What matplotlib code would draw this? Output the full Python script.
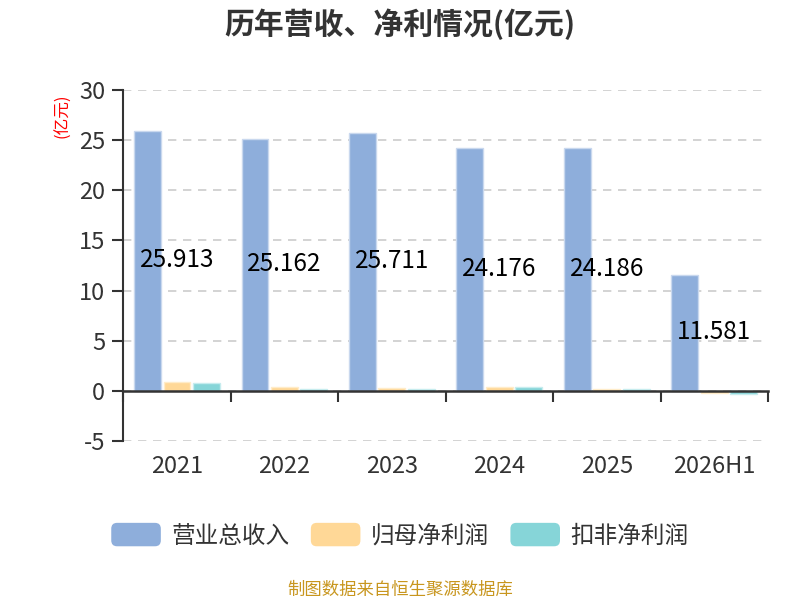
import matplotlib
matplotlib.use("Agg")
import matplotlib.pyplot as plt
import numpy as np
from matplotlib.patches import FancyBboxPatch, Patch
from matplotlib.legend_handler import HandlerPatch

plt.rcParams['font.family'] = ['Noto Sans CJK SC', 'DejaVu Sans']

categories = ['2021', '2022', '2023', '2024', '2025', '2026H1']
revenue = [25.913, 25.162, 25.711, 24.176, 24.186, 11.581]
net_profit = [0.93, 0.36, 0.33, 0.43, 0.20, -0.23]
deducted_profit = [0.74, 0.17, 0.15, 0.40, 0.15, -0.30]
revenue_labels = ['25.913', '25.162', '25.711', '24.176', '24.186', '11.581']
series_names = ['营业总收入', '归母净利润', '扣非净利润']
colors = ['#8eaedb', '#ffd897', '#86d5d8']
edge_colors = ['#c9d8ee', '#ffecc9', '#c6ecee']
yticks = [-5, 0, 5, 10, 15, 20, 25, 30]

fig = plt.figure(figsize=(8, 6), dpi=100)
ax = fig.add_axes([0.154, 0.265, 0.806, 0.585])

x = np.arange(len(categories))
w = 0.25
off = 0.274
series = [revenue, net_profit, deducted_profit]
for i, (vals, c, ec) in enumerate(zip(series, colors, edge_colors)):
    ax.bar(x + (i - 1) * off, vals, width=w, color=c, edgecolor=ec,
           linewidth=1, zorder=3, label=series_names[i])

for xi, v, lab in zip(x, revenue, revenue_labels):
    ax.text(xi, v / 2 + 0.1, lab, ha='center', va='center',
            fontsize=17.5, color='black', zorder=5)

ax.set_xlim(-0.5, len(categories) - 0.5)
ax.set_ylim(-5, 30)
ax.set_yticks(yticks)
ax.set_yticklabels([str(t) for t in yticks])
ax.tick_params(axis='y', direction='out', length=8, width=1.5, color='#333333',
               labelsize=17, labelcolor='#333333', pad=5)
ax.yaxis.grid(True, linestyle=(0, (5, 4)), color='#cccccc', linewidth=1.2, zorder=0)

for s in ['top', 'right']:
    ax.spines[s].set_visible(False)
ax.spines['left'].set_color('#333333')
ax.spines['left'].set_linewidth(1.5)
ax.spines['bottom'].set_position(('data', 0))
ax.spines['bottom'].set_color('#333333')
ax.spines['bottom'].set_linewidth(1.8)
ax.spines['bottom'].set_zorder(4)

ax.set_xticks(np.arange(len(categories) + 1) - 0.5)
ax.set_xticklabels([''] * (len(categories) + 1))
ax.set_xticks(x, minor=True)
ax.set_xticklabels(categories, minor=True)
ax.tick_params(axis='x', which='major', direction='out', length=8, width=1.5,
               color='#333333')
ax.tick_params(axis='x', which='minor', length=0, pad=46, labelsize=17,
               labelcolor='#333333')

ax.text(-0.093, 0.99, '(亿元)', transform=ax.transAxes, rotation=90,
        ha='center', va='top', color='red', fontsize=12)

fig.text(0.5, 0.96, '历年营收、净利情况(亿元)', ha='center', va='center',
         fontsize=21.5, fontweight='bold', color='#333333')
fig.text(0.5, 0.017, '制图数据来自恒生聚源数据库', ha='center', va='center',
         fontsize=12.5, color='#c8961e')


class RoundHandler(HandlerPatch):
    def create_artists(self, legend, orig_handle, xdescent, ydescent,
                       width, height, fontsize, trans):
        p = FancyBboxPatch((-xdescent, -ydescent), width, height,
                           boxstyle='round,pad=0,rounding_size=%f' % (height * 0.25),
                           facecolor=orig_handle.get_facecolor(),
                           edgecolor='none', transform=trans)
        return [p]


handles = [Patch(facecolor=c) for c in colors]
leg = fig.legend(handles, series_names, loc='center', bbox_to_anchor=(0.5, 0.108),
                 ncol=3, frameon=False, fontsize=17, handlelength=2.1,
                 handleheight=1.15, handletextpad=0.45, columnspacing=0.9,
                 handler_map={Patch: RoundHandler()}, labelcolor='#333333')

fig.savefig('out.png', dpi=100)
